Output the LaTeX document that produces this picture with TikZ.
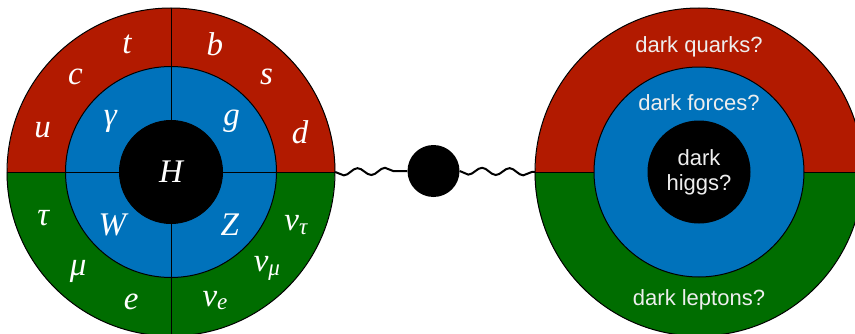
\documentclass[tikz,border=0pt]{standalone}
\usepackage{fontspec}
\setmainfont{Liberation Serif}
\newfontfamily\darkfont{Liberation Sans}
\usetikzlibrary{positioning, decorations.pathmorphing}
\definecolor{quarkRed}{HTML}{B21A00}
\definecolor{forceBlue}{HTML}{0072BB}
\definecolor{leptonGreen}{HTML}{006D00}
\definecolor{darkText}{HTML}{EEEEEE}

\begin{document}
\begin{tikzpicture}[
    x=1pt, y=1pt,
    ring/.style={circle, draw=black, line width=1pt, inner sep=0pt},
    shell/.style={circle, inner sep=0pt, minimum size=328pt},
    particle/.style={text=white, font=\fontsize{33}{33}\selectfont\itshape},
    darklabel/.style={text=darkText, font=\darkfont\fontsize{22}{25}\selectfont, align=center},
    boson/.style={line width=2pt, decorate, decoration={snake, segment length=27.5pt, amplitude=3.5pt, mirror}}
]
    \clip (0,0) rectangle (855,333);

    % standard model
    \node[shell] (smOuter) at (171,161) {};
    \fill[quarkRed] (smOuter.east) arc (0:180:164) -- cycle;
    \fill[leptonGreen] (smOuter.west) arc (180:360:164) -- cycle;
    \node[ring, fill=forceBlue, minimum size=211pt] (smForce) at (smOuter) {};
    \draw[line width=1pt] (smOuter.north) -- (smOuter.south)
                          (smOuter.west) -- (smOuter.east);
    \node[ring, fill=black, minimum size=103pt, particle] (smHiggs) at (smOuter) {H};
    \draw[line width=1pt] (smOuter.center) circle[radius=164];

    \foreach \ang/\lbl [count=\i] in {162/u, 135/c, 109/t, 71/b, 45/s, 17/d}
        \node[particle] (quark\i) at ([shift={(\ang:135)}]smOuter.center) {\lbl};
    \foreach \ang/\lbl [count=\i] in {200/τ, 227/μ, 253/e, 289/ν\textsubscript{e}, 315/ν\textsubscript{μ}, 337/ν\textsubscript{τ}}
        \node[particle] (lepton\i) at ([shift={(\ang:136)}]smOuter.center) {\lbl};
    \foreach \ang/\lbl [count=\i] in {140/γ, 40/g, 222/W, 318/Z}
        \node[particle] (boson\i) at ([shift={(\ang:79)}]smOuter.center) {\lbl};

    % portal
    \node[circle, fill=black, inner sep=0pt, minimum size=52pt] (portal) at (433.5,162) {};
    \draw[boson] (smOuter.east) -- (portal.west);

    % dark sector
    \node[shell] (dsOuter) at (699,161) {};
    \fill[quarkRed] (dsOuter.east) arc (0:180:164) -- cycle;
    \fill[leptonGreen] (dsOuter.west) arc (180:360:164) -- cycle;
    \draw[line width=1pt] (dsOuter.west) -- (dsOuter.east);
    \node[ring, fill=forceBlue, minimum size=210pt] (dsForce) at (dsOuter) {};
    \node[ring, fill=black, minimum size=102pt, darklabel] (dsHiggs) at (dsOuter) {dark\\higgs?};
    \draw[line width=1pt] (dsOuter.center) circle[radius=164];
    \draw[boson] (portal.east) -- (dsOuter.west);

    \node[darklabel] (dsQuarks) at ([yshift=125pt]dsOuter.center) {dark quarks?};
    \node[darklabel] (dsForces) at ([yshift=69pt]dsOuter.center) {dark forces?};
    \node[darklabel] (dsLeptons) at ([yshift=-128pt]dsOuter.center) {dark leptons?};
\end{tikzpicture}
\end{document}
